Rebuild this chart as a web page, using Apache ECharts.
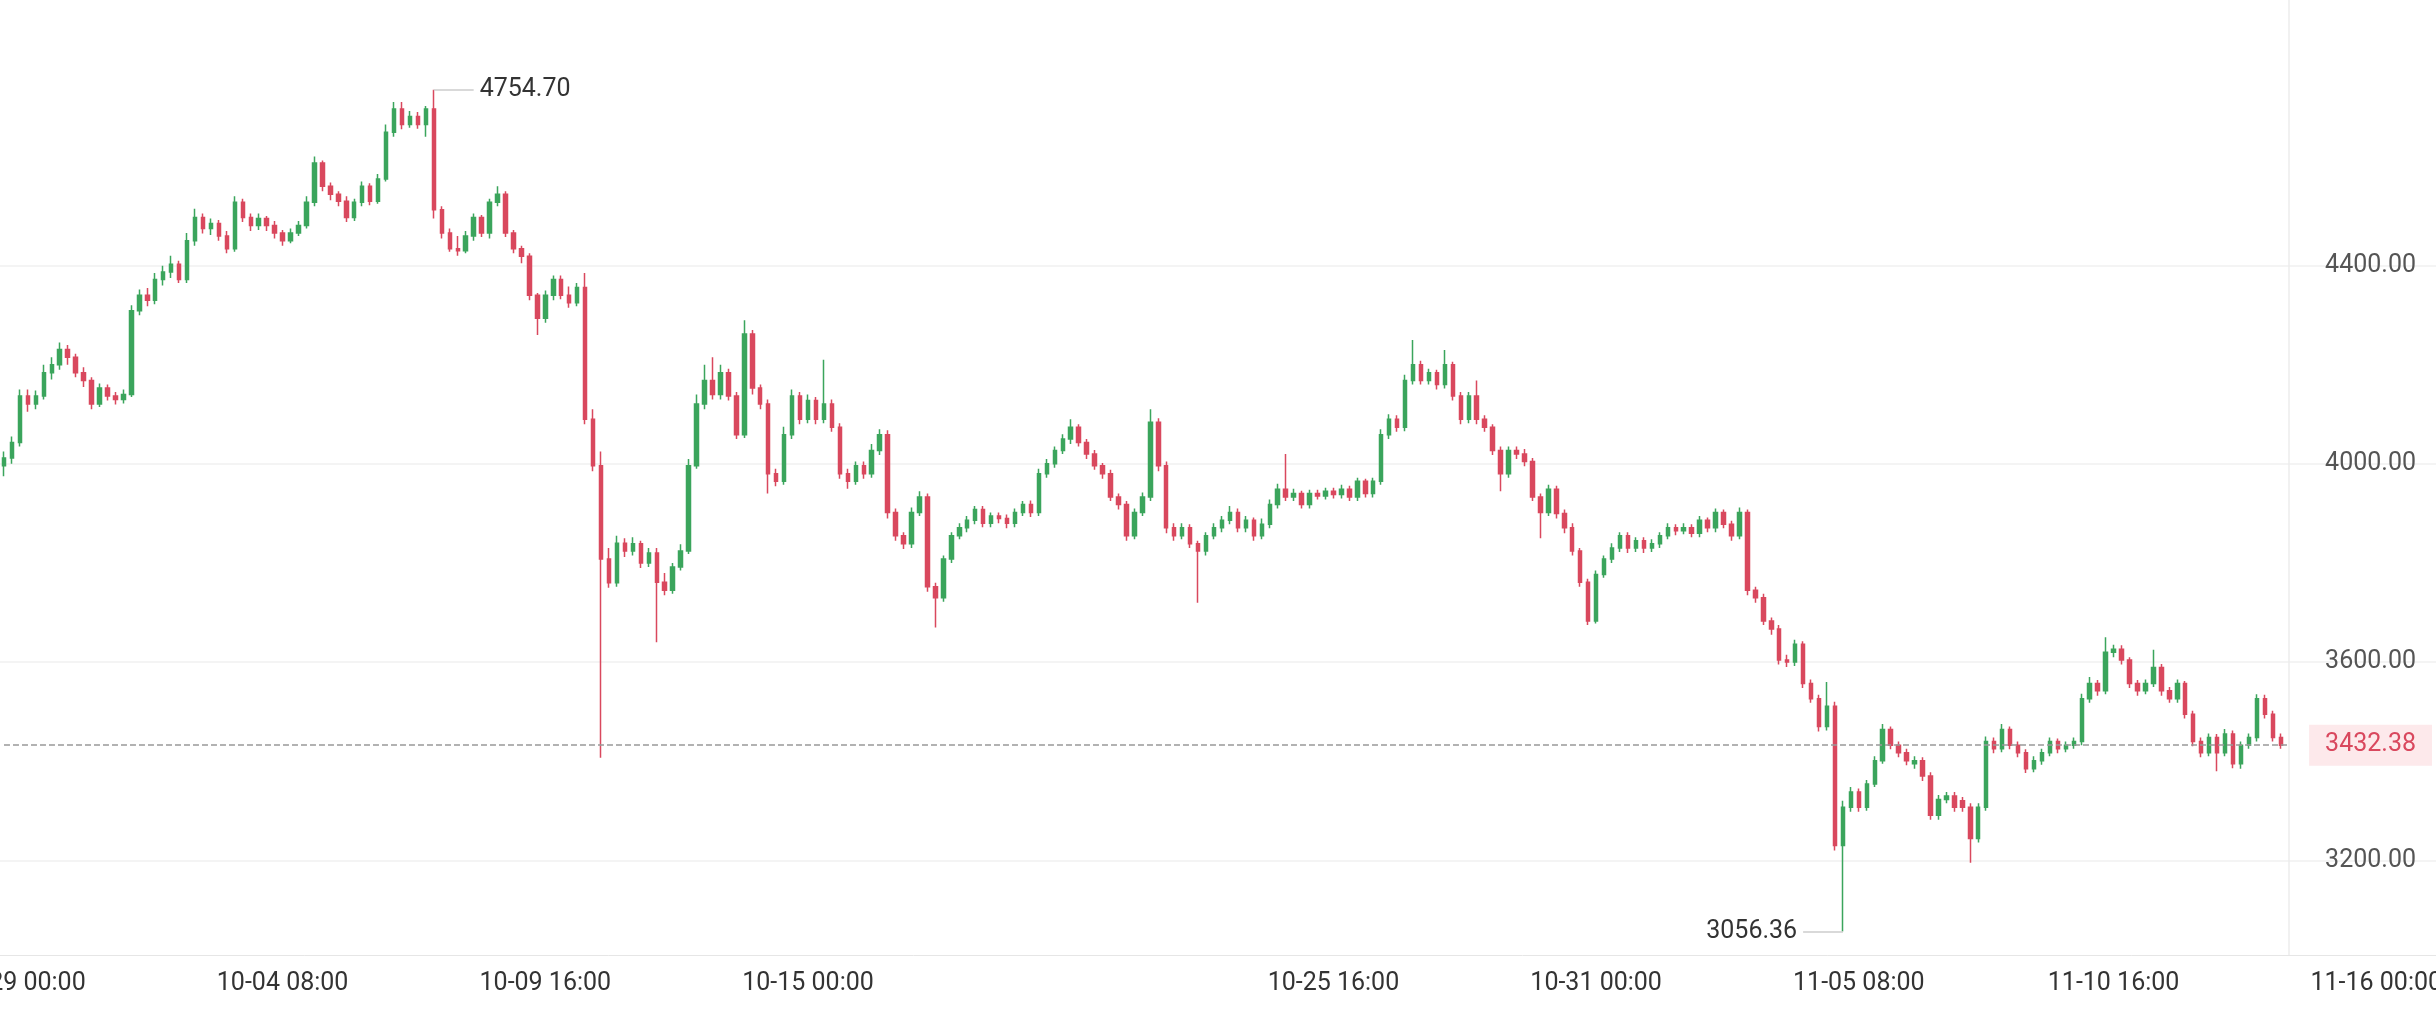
<!DOCTYPE html>
<html>
<head>
<meta charset="utf-8">
<script src="https://cdn.jsdelivr.net/npm/echarts@6/dist/echarts.min.js"></script>
<style>html,body{margin:0;padding:0;background:#fff}#chart{width:2436px;height:1021px}</style>
</head>
<body>
<div id="chart"></div>
<script>
// [open, close, low, high], 4h candles
const candles = [
[3996,4012,3975,4025],[4012,4043,4000,4055],[4043,4137,4035,4150],[4137,4121,4105,4150],[4121,4137,4110,4148],
[4137,4184,4130,4200],[4184,4200,4170,4215],[4200,4231,4190,4245],[4231,4215,4200,4240],[4215,4184,4175,4222],
[4184,4168,4155,4195],[4168,4121,4110,4175],[4121,4153,4115,4162],[4153,4137,4128,4160],[4137,4130,4120,4145],
[4130,4140,4122,4150],[4140,4309,4135,4320],[4309,4340,4300,4352],[4340,4330,4318,4355],[4330,4372,4322,4385],
[4372,4387,4360,4400],[4387,4403,4375,4420],[4403,4372,4365,4410],[4372,4450,4365,4466],[4450,4497,4440,4515],
[4497,4475,4465,4505],[4475,4485,4462,4495],[4485,4460,4450,4492],[4460,4434,4425,4470],[4434,4528,4428,4540],
[4528,4497,4488,4535],[4497,4481,4470,4505],[4481,4495,4472,4505],[4495,4481,4470,4500],[4481,4466,4455,4490],
[4466,4450,4440,4472],[4450,4466,4445,4475],[4466,4481,4460,4490],[4481,4528,4475,4540],[4528,4607,4520,4620],
[4607,4560,4550,4612],[4560,4544,4532,4568],[4544,4530,4520,4550],[4530,4497,4488,4540],[4497,4528,4490,4535],
[4528,4560,4520,4570],[4560,4530,4522,4566],[4530,4575,4525,4585],[4575,4669,4570,4685],[4669,4716,4660,4730],
[4716,4685,4675,4730],[4685,4701,4678,4712],[4701,4685,4676,4710],[4685,4716,4660,4722],[4716,4513,4495,4754.7],
[4513,4466,4455,4520],[4466,4434,4428,4475],[4434,4430,4420,4460],[4430,4460,4425,4470],[4460,4497,4450,4505],
[4497,4466,4458,4502],[4466,4528,4455,4535],[4528,4544,4520,4560],[4544,4466,4458,4550],[4466,4434,4425,4472],
[4434,4419,4405,4440],[4419,4340,4330,4425],[4340,4294,4260,4345],[4294,4340,4285,4350],[4340,4372,4330,4380],
[4372,4340,4332,4380],[4340,4325,4315,4358],[4325,4356,4318,4365],[4356,4090,4080,4385],[4090,3996,3985,4110],
[3996,3808,3407,4025],[3808,3760,3750,3830],[3760,3840,3752,3855],[3840,3824,3812,3850],[3824,3839,3815,3852],
[3839,3800,3790,3845],[3800,3820,3792,3830],[3820,3761,3640,3830],[3761,3745,3735,3780],[3745,3792,3738,3800],
[3792,3824,3785,3838],[3824,3996,3818,4010],[3996,4121,3990,4140],[4121,4168,4110,4200],[4168,4140,4130,4215],
[4140,4184,4130,4200],[4184,4137,4128,4192],[4137,4059,4050,4145],[4059,4262,4052,4290],[4262,4153,4140,4270],
[4153,4121,4110,4160],[4121,3980,3940,4130],[3980,3965,3955,3990],[3965,4059,3958,4075],[4059,4137,4050,4150],
[4137,4090,4080,4145],[4090,4128,4082,4140],[4128,4090,4080,4135],[4090,4121,4082,4210],[4121,4074,4065,4130],
[4074,3980,3970,4082],[3980,3965,3950,3990],[3965,3996,3958,4005],[3996,3980,3970,4005],[3980,4027,3972,4040],
[4027,4059,4018,4070],[4059,3902,3890,4068],[3902,3855,3845,3910],[3855,3839,3828,3862],[3839,3902,3830,3912],
[3902,3933,3895,3945],[3933,3752,3742,3940],[3752,3730,3670,3760],[3730,3808,3722,3815],[3808,3855,3800,3862],
[3855,3871,3848,3880],[3871,3886,3862,3895],[3886,3908,3878,3915],[3908,3880,3872,3915],[3880,3895,3872,3902],
[3895,3890,3880,3902],[3890,3880,3870,3898],[3880,3902,3872,3910],[3902,3918,3895,3925],[3918,3902,3893,3926],
[3902,3980,3895,3990],[3980,4000,3972,4010],[4000,4027,3992,4035],[4027,4050,4020,4060],[4050,4074,4040,4090],
[4074,4043,4035,4080],[4043,4020,4010,4050],[4020,3996,3988,4028],[3996,3980,3970,4002],[3980,3933,3925,3988],
[3933,3918,3908,3940],[3918,3855,3845,3925],[3855,3902,3848,3910],[3902,3933,3895,3942],[3933,4084,3925,4110],
[4084,3996,3985,4092],[3996,3871,3860,4005],[3871,3855,3845,3880],[3855,3871,3848,3880],[3871,3839,3830,3878],
[3839,3824,3720,3845],[3824,3855,3815,3862],[3855,3871,3848,3880],[3871,3886,3862,3895],[3886,3902,3878,3915],
[3902,3871,3862,3910],[3871,3886,3862,3895],[3886,3855,3845,3892],[3855,3878,3848,3890],[3878,3918,3870,3928],
[3918,3949,3910,3960],[3949,3933,3925,4020],[3933,3940,3925,3950],[3940,3918,3910,3946],[3918,3940,3910,3948],
[3940,3935,3928,3948],[3935,3945,3928,3952],[3945,3938,3930,3952],[3938,3949,3930,3958],[3949,3933,3925,3956],
[3933,3965,3925,3972],[3965,3940,3932,3970],[3940,3965,3932,3972],[3965,4059,3958,4070],[4059,4090,4050,4100],
[4090,4074,4065,4098],[4074,4168,4066,4180],[4168,4200,4160,4250],[4200,4168,4160,4208],[4168,4184,4160,4192],
[4184,4160,4150,4190],[4160,4200,4152,4230],[4200,4137,4128,4206],[4137,4090,4080,4145],[4090,4137,4082,4145],
[4137,4090,4080,4168],[4090,4074,4065,4098],[4074,4027,4018,4080],[4027,3980,3945,4035],[3980,4027,3972,4035],
[4027,4020,4010,4035],[4020,4005,3995,4030],[4005,3933,3925,4012],[3933,3902,3850,3940],[3902,3949,3895,3958],
[3949,3900,3890,3956],[3900,3871,3860,3908],[3871,3824,3815,3880],[3824,3761,3752,3830],[3761,3683,3675,3768],
[3683,3777,3678,3785],[3777,3808,3770,3815],[3808,3830,3800,3840],[3830,3855,3822,3862],[3855,3830,3820,3862],
[3830,3845,3822,3852],[3845,3830,3820,3852],[3830,3839,3822,3848],[3839,3855,3830,3862],[3855,3871,3848,3880],
[3871,3865,3856,3878],[3865,3871,3858,3880],[3871,3860,3852,3878],[3860,3886,3852,3895],[3886,3871,3862,3892],
[3871,3902,3862,3910],[3902,3878,3870,3908],[3878,3855,3845,3885],[3855,3902,3848,3912],[3902,3745,3735,3908],
[3745,3730,3720,3752],[3730,3683,3675,3738],[3683,3667,3655,3690],[3667,3604,3595,3675],[3604,3600,3590,3615],
[3600,3636,3592,3645],[3636,3557,3548,3642],[3557,3526,3518,3565],[3526,3470,3460,3534],[3470,3511,3462,3560],
[3511,3230,3220,3520],[3230,3307,3056.36,3320],[3307,3338,3298,3348],[3338,3307,3298,3345],[3307,3354,3300,3362],
[3354,3401,3348,3410],[3401,3464,3395,3475],[3464,3432,3424,3470],[3432,3417,3408,3440],[3417,3401,3392,3425],
[3395,3401,3385,3410],[3401,3370,3360,3408],[3370,3291,3282,3378],[3291,3323,3282,3332],[3323,3330,3315,3338],
[3330,3307,3298,3338],[3320,3307,3298,3328],[3307,3244,3195,3315],[3244,3307,3236,3315],[3307,3440,3300,3450],
[3440,3425,3416,3448],[3425,3464,3418,3475],[3464,3432,3424,3470],[3432,3417,3408,3440],[3417,3385,3376,3424],
[3385,3401,3378,3410],[3401,3417,3393,3425],[3417,3440,3410,3448],[3440,3425,3416,3446],[3425,3432,3418,3440],
[3432,3440,3425,3448],[3440,3526,3432,3536],[3526,3557,3518,3570],[3557,3542,3532,3564],[3542,3620,3535,3650],
[3620,3626,3610,3635],[3626,3604,3595,3634],[3604,3557,3548,3610],[3557,3542,3532,3564],[3542,3557,3535,3565],
[3557,3589,3550,3625],[3589,3542,3532,3596],[3542,3526,3518,3550],[3526,3557,3518,3565],[3557,3495,3486,3562],
[3495,3440,3430,3502],[3440,3417,3408,3448],[3417,3448,3410,3456],[3448,3417,3380,3455],[3417,3455,3410,3465],
[3455,3395,3386,3462],[3395,3432,3385,3440],[3432,3448,3425,3456],[3448,3526,3440,3535],[3526,3495,3486,3534],
[3495,3448,3440,3502],[3448,3432.38,3425,3456]
];
const lastPrice = 3432.38;
const bandCount = 306;
const labelIdx = [2, 35, 68, 101, 167, 200, 233, 265, 298];
const labelText = ['09-29 00:00', '10-04 08:00', '10-09 16:00', '10-15 00:00', '10-25 16:00', '10-31 00:00', '11-05 08:00', '11-10 16:00', '11-16 00:00'];
const yTicks = [3200, 3600, 4000, 4400];

const cats = [];
for (let i = 0; i < bandCount; i++) {
    const k = labelIdx.indexOf(i);
    cats.push(k >= 0 ? labelText[k] : '');
}

let maxI = 0, minI = 0;
candles.forEach((c, i) => {
    if (c[3] > candles[maxI][3]) maxI = i;
    if (c[2] < candles[minI][2]) minI = i;
});
const sepIdx = candles.length;

const up = '#3ba55c', down = '#d9485e';
const chart = echarts.init(document.getElementById('chart'));
chart.setOption({
    animation: false,
    grid: { left: 0, right: 0, top: 0, bottom: 66, outerBoundsMode: 'none', containLabel: false },
    xAxis: {
        type: 'category',
        data: cats,
        boundaryGap: true,
        axisLine: { lineStyle: { color: '#e6e6e6' } },
        axisTick: { show: false },
        axisLabel: {
            interval: (i) => labelIdx.indexOf(i) >= 0,
            color: '#333', fontSize: 25, margin: 16, fontFamily: 'Roboto'
        },
        splitLine: { show: false }
    },
    yAxis: [{
        type: 'value', position: 'right', min: 3009, max: 4936,
        axisLine: { show: false }, axisTick: { show: false, customValues: yTicks },
        axisLabel: {
            inside: true, margin: 20, color: '#555', fontSize: 25, fontFamily: 'Roboto',
            customValues: yTicks, formatter: (v) => v.toFixed(2)
        },
        splitLine: { lineStyle: { color: '#f0f0f0', width: 1.5 } }
    }, {
        type: 'value', position: 'right', min: 3009, max: 4936,
        axisLine: { show: false }, axisTick: { show: false },
        axisLabel: {
            inside: true, margin: 4, color: '#d9485e', fontSize: 25, fontFamily: 'Roboto',
            customValues: [lastPrice], formatter: (v) => v.toFixed(2),
            backgroundColor: '#fde9eb', padding: [8, 16, 8, 16]
        },
        splitLine: { show: false }
    }],
    series: [{
        type: 'candlestick',
        data: candles,
        barMaxWidth: 6,
        itemStyle: { color: up, color0: down, borderColor: up, borderColor0: down, borderWidth: 1.5 },
        markLine: {
            silent: true, symbol: 'none',
            data: [
                [
                    { coord: [0, lastPrice], lineStyle: { type: 'dashed', color: '#999', width: 1.5 }, label: { show: false } },
                    { coord: [sepIdx, lastPrice] }
                ],
                { xAxis: sepIdx, lineStyle: { type: 'solid', color: '#ececec', width: 1.5 }, label: { show: false } },
                [
                    { coord: [maxI, candles[maxI][3]], lineStyle: { type: 'solid', color: '#ccc', width: 1.5 } },
                    { coord: [maxI + 5, candles[maxI][3]], label: { show: true, position: 'end', formatter: candles[maxI][3].toFixed(2), color: '#333', fontSize: 25, fontFamily: 'Roboto', distance: 6 } }
                ],
                [
                    { coord: [minI - 5, candles[minI][2]], lineStyle: { type: 'solid', color: '#ccc', width: 1.5 }, label: { show: true, position: 'start', formatter: candles[minI][2].toFixed(2), color: '#333', fontSize: 25, fontFamily: 'Roboto', distance: 6 } },
                    { coord: [minI, candles[minI][2]] }
                ]
            ]
        }
    }]
});
</script>
</body>
</html>
